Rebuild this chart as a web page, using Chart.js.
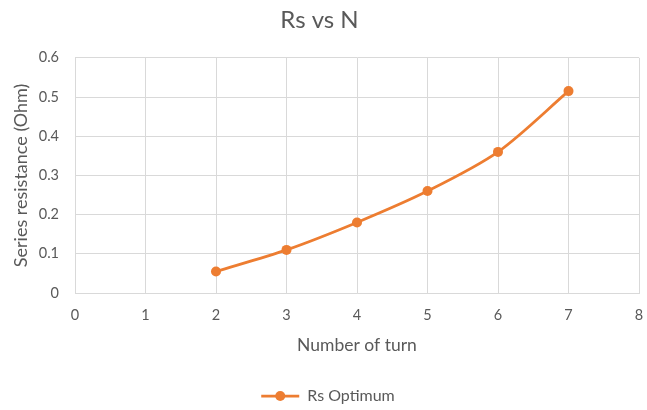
<!DOCTYPE html>
<html>
<head>
<meta charset="utf-8">
<script src="https://cdn.jsdelivr.net/npm/chart.js@4"></script>
<style>
  html, body { margin: 0; padding: 0; background: #fff; }
  #wrap { width: 647px; height: 410px; }
</style>
</head>
<body>
<div id="wrap"><canvas id="c" width="647" height="410"></canvas></div>
<script>
// Number of turns and optimum series resistance (Ohm)
const turns = [2, 3, 4, 5, 6, 7];
const rsOptimum = [0.055, 0.11, 0.18, 0.26, 0.36, 0.515];
const seriesName = 'Rs Optimum';
const chartTitle = 'Rs vs N';
const xTitle = 'Number of turn';
const yTitle = 'Series resistance (Ohm)';

const orange = '#ED7D31';
const textGrey = '#595959';
const gridGrey = '#D9D9D9';
const fontFamily = 'Lato, "Open Sans", sans-serif';

const points = turns.map((n, i) => ({ x: n, y: rsOptimum[i] }));

new Chart(document.getElementById('c'), {
  type: 'line',
  data: {
    datasets: [{
      label: seriesName,
      data: points,
      borderColor: orange,
      backgroundColor: orange,
      borderWidth: 2.75,
      pointRadius: 5,
      pointHoverRadius: 5,
      pointBorderWidth: 0,
      tension: 0.3,
      fill: false
    }]
  },
  options: {
    responsive: false,
    animation: false,
    devicePixelRatio: 1,
    layout: { padding: { left: 0, right: 8, top: 0, bottom: -4 } },
    plugins: {
      title: {
        display: true,
        text: chartTitle,
        color: textGrey,
        font: { family: fontFamily, size: 24, weight: 'normal' },
        padding: { top: 6, bottom: 23 }
      },
      legend: {
        position: 'bottom',
        labels: {
          color: textGrey,
          font: { family: fontFamily, size: 16 },
          usePointStyle: true,
          pointStyle: 'line',
          pointStyleWidth: 38,
          boxWidth: 38,
          padding: 1,
          generateLabels() {
            return [{
              text: seriesName,
              fillStyle: orange,
              strokeStyle: orange,
              lineWidth: 2.75,
              pointStyle: 'line',
              fontColor: textGrey,
              datasetIndex: 0
            }];
          }
        }
      },
      tooltip: { enabled: false }
    },
    scales: {
      x: {
        type: 'linear',
        min: 0,
        max: 8,
        afterFit(scale) {
          scale.height = 94;
          scale.paddingLeft = 0;
          scale.paddingRight = 0;
        },
        ticks: {
          stepSize: 1,
          color: textGrey,
          font: { family: fontFamily, size: 14.5 },
          padding: 14
        },
        grid: { color: gridGrey, lineWidth: 1, drawTicks: false },
        border: { color: gridGrey },
        title: {
          display: true,
          text: xTitle,
          color: textGrey,
          font: { family: fontFamily, size: 17.5 },
          padding: { top: 8, bottom: 31 }
        }
      },
      y: {
        min: 0,
        max: 0.6,
        afterFit(scale) { scale.width = 75; },
        ticks: {
          stepSize: 0.1,
          color: textGrey,
          font: { family: fontFamily, size: 14.5 },
          padding: 16,
          callback: v => (Math.round(v * 10) / 10).toString()
        },
        grid: { color: gridGrey, lineWidth: 1, drawTicks: false },
        border: { color: gridGrey },
        title: {
          display: true,
          text: yTitle,
          color: textGrey,
          font: { family: fontFamily, size: 18 },
          padding: { top: 10, bottom: 6 }
        }
      }
    }
  },
  plugins: [{
    // nudge the legend row a little to the right of centre and
    // draw the marker dot over the middle of its line sample
    id: 'legendTweaks',
    afterLayout(chart) {
      const lg = chart.legend;
      if (!lg) return;
      lg.left += 8.5;
      lg.right += 8.5;
    },
    afterDraw(chart) {
      const lg = chart.legend;
      if (!lg || !lg.legendHitBoxes.length) return;
      const box = lg.legendHitBoxes[0];
      const ctx = chart.ctx;
      const cx = box.left + lg.options.labels.pointStyleWidth / 2;
      const cy = box.top + box.height / 2;
      ctx.save();
      ctx.fillStyle = orange;
      ctx.beginPath();
      ctx.arc(cx, cy, 5, 0, Math.PI * 2);
      ctx.fill();
      ctx.restore();
    }
  }]
});
</script>
</body>
</html>
